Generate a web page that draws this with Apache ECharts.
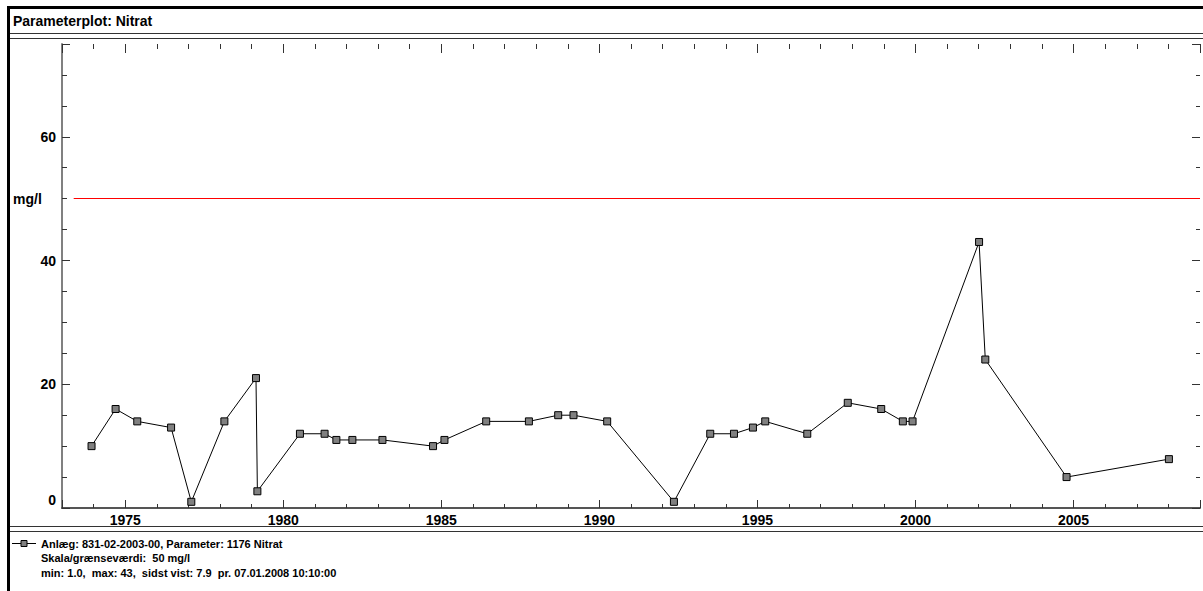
<!DOCTYPE html>
<html>
<head>
<meta charset="utf-8">
<script src="https://cdn.jsdelivr.net/npm/echarts@6/dist/echarts.min.js"></script>
<style>
html,body{margin:0;padding:0;background:#fff;}
#chart{width:1203px;height:591px;}
</style>
</head>
<body>
<div id="chart"></div>
<script>
// ---- data ----
const sampleDates = [
  '1973-12-08','1974-09-12','1975-05-20','1976-06-14','1977-02-03','1978-02-20',
  '1979-02-20','1979-03-08','1980-07-12','1981-04-23','1981-09-06','1982-03-10',
  '1983-02-20','1984-09-27','1985-02-06','1986-06-03','1987-10-09','1988-09-12',
  '1989-03-08','1990-04-01','1992-05-11','1993-07-05','1994-04-05','1994-11-10',
  '1995-04-01','1996-07-30','1997-11-10','1998-12-01','1999-08-08','1999-11-28',
  '2002-01-05','2002-03-18','2004-10-12','2008-01-07'
];
const nitrateValues = [
  10, 16, 14, 13, 1.0, 14,
  21, 2.7, 12, 12, 11, 11,
  11, 10, 11, 14, 14, 15,
  15, 14, 1.0, 12, 12, 13,
  14, 12, 17, 16, 14, 14,
  43, 24, 5, 7.9
];
const limitValue = 50;
const xYearRange = [1973, 2009];
const limitLineStartYear = 1973.37;
const yRange = [0, 75];
const yTickLabels = [0, 20, 40, 60];
const xTickLabels = [1975, 1980, 1985, 1990, 1995, 2000, 2005];
const yUnitLabel = 'mg/l';
const titleText = 'Parameterplot: Nitrat';
const legendLines = [
  'Anlæg: 831-02-2003-00, Parameter: 1176 Nitrat',
  'Skala/grænseværdi:  50 mg/l',
  'min: 1.0,  max: 43,  sidst vist: 7.9  pr. 07.01.2008 10:10:00'
];

// ---- helpers ----
function toDecimalYear(s) {
  const d = new Date(s + 'T00:00:00Z');
  const y = d.getUTCFullYear();
  const a = Date.UTC(y, 0, 1), b = Date.UTC(y + 1, 0, 1);
  return y + (d.getTime() - a) / (b - a);
}
const seriesData = sampleDates.map((s, i) => [toDecimalYear(s), nitrateValues[i]]);

const FONT = '"Liberation Sans", Arial, sans-serif';
const chart = echarts.init(document.getElementById('chart'), null, {renderer: 'svg'});

function xAx(pos, major, tickLen, extra) {
  return Object.assign({
    type: 'value', position: pos, min: xYearRange[0], max: xYearRange[1],
    axisLine: {show: false, onZero: false},
    splitLine: {show: false},
    axisLabel: {show: false},
    axisTick: {show: true, inside: true, length: tickLen, lineStyle: {color: '#333', width: 1}}
  }, major ? {splitNumber: 7} : {interval: 1}, extra || {});
}
function yAx(pos, major, tickLen, extra) {
  return Object.assign({
    type: 'value', position: pos, min: yRange[0], max: yRange[1],
    axisLine: {show: false, onZero: false},
    splitLine: {show: false},
    axisLabel: {show: false},
    axisTick: {show: true, inside: true, length: tickLen, lineStyle: {color: '#333', width: 1}}
  }, major ? {splitNumber: 4} : {interval: 5}, extra || {});
}

const option = {
  animation: false,
  backgroundColor: '#fff',
  grid: {left: 62, right: -2, top: 44, bottom: 83, containLabel: false},
  xAxis: [
    xAx('bottom', false, 4, {
      axisLine: {show: true, onZero: false, lineStyle: {color: '#555', width: 2}},
      axisLabel: {
        show: true, margin: 5, color: '#000', fontSize: 14, fontWeight: 'bold', fontFamily: FONT,
        formatter: v => xTickLabels.indexOf(v) >= 0 ? String(v) : ''
      }
    }),
    xAx('bottom', true, 8),
    xAx('top', false, 5),
    xAx('top', true, 9)
  ],
  yAxis: [
    yAx('left', false, 5, {
      axisLine: {show: true, onZero: false, lineStyle: {color: '#808080', width: 2}},
      axisLabel: {
        show: true, margin: 6, color: '#000', fontSize: 14, fontWeight: 'bold', fontFamily: FONT,
        formatter: v => v === 0 ? '{z|0}' : (yTickLabels.indexOf(v) >= 0 ? String(v) : ''),
        rich: {z: {fontSize: 14, fontWeight: 'bold', fontFamily: FONT, color: '#000', padding: [0, 0, 16, 0]}}
      }
    }),
    yAx('left', true, 8),
    yAx('right', false, 4),
    yAx('right', true, 8)
  ],
  series: [{
    type: 'line',
    xAxisIndex: 0, yAxisIndex: 0,
    data: seriesData,
    symbol: 'rect', symbolSize: 7,
    lineStyle: {color: '#000', width: 1},
    itemStyle: {color: '#808080', borderColor: '#000', borderWidth: 1},
    emphasis: {disabled: true},
    markLine: {
      silent: true, symbol: 'none', animation: false,
      label: {show: false},
      lineStyle: {color: '#ff0000', width: 1, type: 'solid'},
      data: [[{coord: [limitLineStartYear, limitValue]}, {coord: [xYearRange[1], limitValue]}]]
    }
  }],
  graphic: [
    {type: 'rect', shape: {x: 7, y: 6, width: 1196, height: 3}, style: {fill: '#000'}, silent: true},
    {type: 'rect', shape: {x: 7, y: 6, width: 3, height: 585}, style: {fill: '#000'}, silent: true},
    {type: 'line', shape: {x1: 10, y1: 33.5, x2: 1203, y2: 33.5}, style: {stroke: '#333', lineWidth: 1}, silent: true},
    {type: 'line', shape: {x1: 10, y1: 38.5, x2: 1203, y2: 38.5}, style: {stroke: '#333', lineWidth: 1}, silent: true},
    {type: 'line', shape: {x1: 10, y1: 526.5, x2: 1203, y2: 526.5}, style: {stroke: '#333', lineWidth: 1}, silent: true},
    {type: 'line', shape: {x1: 10, y1: 531.5, x2: 1203, y2: 531.5}, style: {stroke: '#333', lineWidth: 1}, silent: true},
    {type: 'text', x: 13, y: 20.5, silent: true,
      style: {text: titleText, font: 'bold 14px ' + FONT, fill: '#000', textVerticalAlign: 'middle', verticalAlign: 'middle'}},
    {type: 'text', x: 13, y: 199, silent: true,
      style: {text: yUnitLabel, font: 'bold 14px ' + FONT, fill: '#000', textVerticalAlign: 'middle', verticalAlign: 'middle'}},
    {type: 'line', shape: {x1: 12, y1: 543.5, x2: 36, y2: 543.5}, style: {stroke: '#000', lineWidth: 1}, silent: true},
    {type: 'rect', shape: {x: 21, y: 540.5, width: 6, height: 6}, style: {fill: '#808080', stroke: '#000', lineWidth: 1}, silent: true},
    {type: 'text', x: 41, y: 543.5, silent: true,
      style: {text: legendLines[0], font: 'bold 11px ' + FONT, fill: '#000', textVerticalAlign: 'middle', verticalAlign: 'middle'}},
    {type: 'text', x: 41, y: 558, silent: true,
      style: {text: legendLines[1], font: 'bold 11px ' + FONT, fill: '#000', textVerticalAlign: 'middle', verticalAlign: 'middle'}},
    {type: 'text', x: 41, y: 572.5, silent: true,
      style: {text: legendLines[2], font: 'bold 11px ' + FONT, fill: '#000', textVerticalAlign: 'middle', verticalAlign: 'middle'}}
  ]
};
chart.setOption(option);
</script>
</body>
</html>
